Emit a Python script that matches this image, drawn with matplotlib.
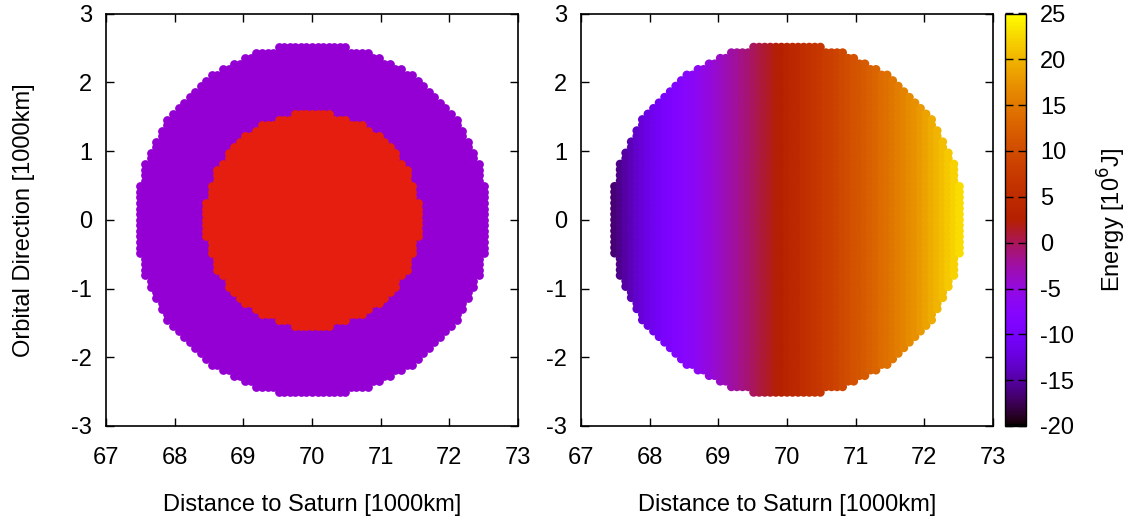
import numpy as np
import matplotlib
matplotlib.use("Agg")
import matplotlib.pyplot as plt

plt.rcParams['font.family'] = ['Liberation Sans', 'DejaVu Sans']
plt.rcParams['font.size'] = 17
plt.rcParams['axes.unicode_minus'] = False

# ---- data ----
center_x = 70.0          # [1000 km]
center_y = 0.0
grid_step = 0.081         # lattice spacing [1000 km]
outer_radius = 2.57
core_radius = 1.56
column_index = list(range(-31, 32))
column_energy = [
    -16.6, -15.8, -15.0, -14.2, -13.4, -12.7, -12.0, -11.3, -10.6, -9.9,
    -9.3, -8.7, -8.1, -7.5, -6.9, -6.3, -5.7, -5.1, -4.5, -3.9,
    -3.3, -2.7, -2.1, -1.5, -0.9, -0.3, 0.4, 1.0, 1.6, 2.2,
    2.8, 3.4, 4.0, 4.6, 5.2, 5.8, 6.4, 7.0, 7.6, 8.2,
    8.8, 9.4, 10.0, 10.6, 11.2, 11.8, 12.4, 13.0, 13.6, 14.2,
    14.8, 15.4, 16.0, 16.6, 17.2, 17.9, 18.6, 19.3, 20.0, 20.7,
    21.4, 22.1, 22.8,
]
xticks = [67, 68, 69, 70, 71, 72, 73]
yticks = [-3, -2, -1, 0, 1, 2, 3]
cbticks = [-20, -15, -10, -5, 0, 5, 10, 15, 20, 25]
shell_color = '#9400d3'
core_color = '#e51e10'

# ---- build particle lattice ----
xs, ys, es = [], [], []
for ci, e in zip(column_index, column_energy):
    for ri in column_index:
        dx = ci * grid_step
        dy = ri * grid_step
        if dx * dx + dy * dy <= outer_radius ** 2:
            xs.append(center_x + dx)
            ys.append(center_y + dy)
            es.append(e)
xs = np.array(xs); ys = np.array(ys); es = np.array(es)
rr = np.hypot(xs - center_x, ys - center_y)
core = rr <= core_radius

W, H = 1128, 522
fig = plt.figure(figsize=(W / 100, H / 100), dpi=100)

def box(l, t, r, b):
    return [l / W, (H - b) / H, (r - l) / W, (b - t) / H]

ax1 = fig.add_axes(box(106, 13.5, 518, 426))
ax2 = fig.add_axes(box(581, 13.5, 993, 426))
cax = fig.add_axes(box(1005, 13.5, 1026, 426))

msize = 40
ax1.scatter(xs[~core], ys[~core], s=msize, c=shell_color, marker='o', linewidths=0)
ax1.scatter(xs[core], ys[core], s=msize, c=core_color, marker='o', linewidths=0)
sc = ax2.scatter(xs, ys, s=msize, c=es, cmap='gnuplot', vmin=-20, vmax=25,
                 marker='o', linewidths=0)

for ax in (ax1, ax2):
    ax.set_xlim(67, 73)
    ax.set_ylim(-3, 3)
    ax.set_xticks(xticks)
    ax.set_yticks(yticks)
    ax.tick_params(direction='in', length=6, width=1, top=True, right=True,
                   pad=10)
    ax.tick_params(axis='x', pad=15)
    for sp in ax.spines.values():
        sp.set_linewidth(1.2)
    ax.set_xlabel('Distance to Saturn [1000km]', labelpad=18)
ax1.set_ylabel('Orbital Direction [1000km]', labelpad=26)

cb = fig.colorbar(sc, cax=cax, ticks=cbticks)
cb.outline.set_linewidth(1.0)
cax.tick_params(direction='in', length=6, width=1, left=True, right=True, pad=10)
cb.set_label('Energy [10$^{6}$J]', labelpad=16)

fig.savefig('out.png', dpi=100)
